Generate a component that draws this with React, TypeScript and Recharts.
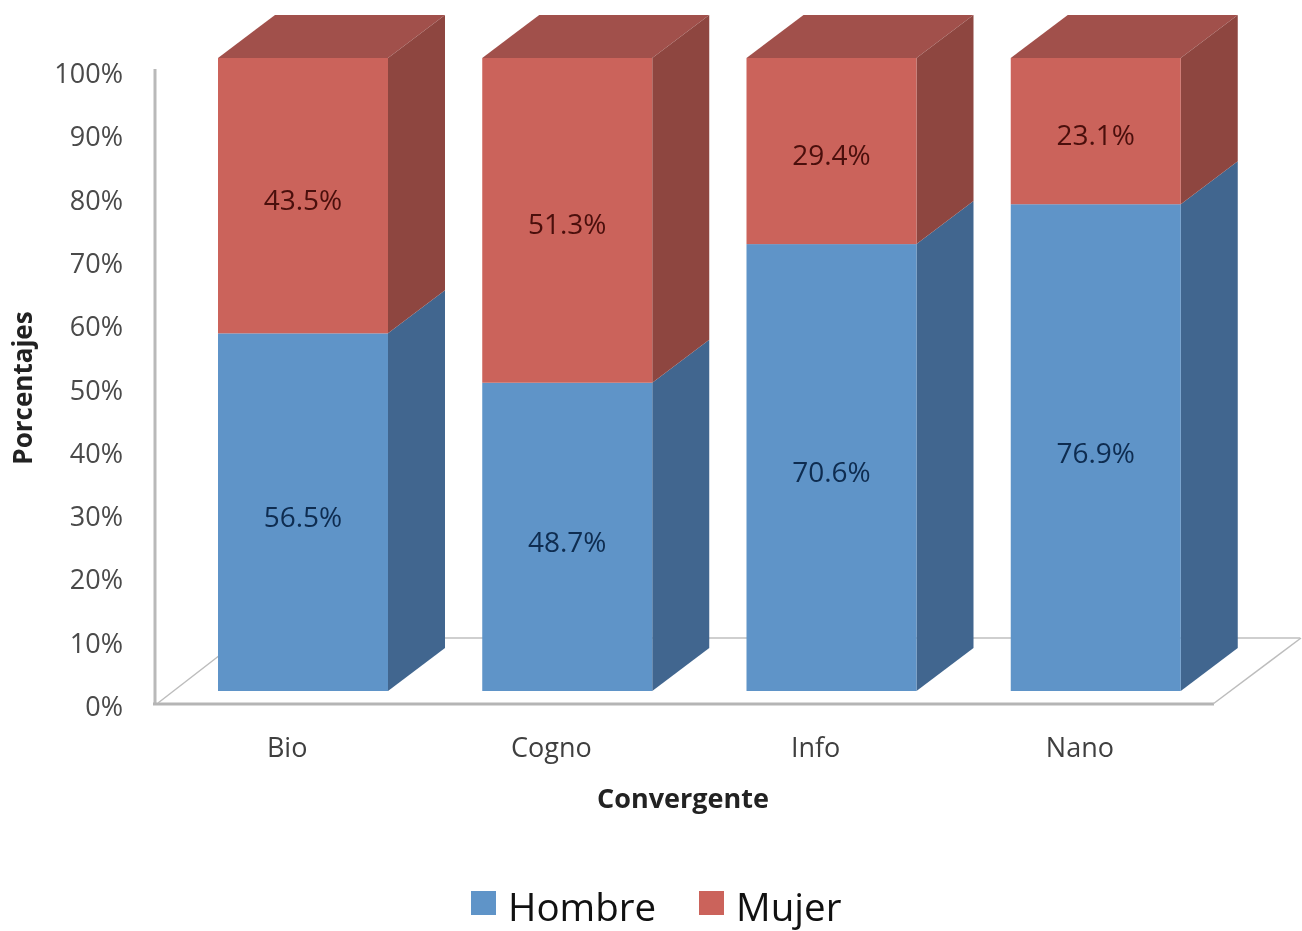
import React from "react";
import { BarChart, Bar, XAxis, YAxis, Legend, LabelList } from "recharts";

const categories = ["Bio", "Cogno", "Info", "Nano"];
const hombre = [56.5, 48.7, 70.6, 76.9];
const mujer = [43.5, 51.3, 29.4, 23.1];
const yTicks = [0, 10, 20, 30, 40, 50, 60, 70, 80, 90, 100];

const data = categories.map((name, i) => ({ name, Hombre: hombre[i], Mujer: mujer[i] }));

const FONT = "'Open Sans', sans-serif";
const DX = 57;
const DY = -43;

function box(colors: { front: string; side: string; top?: string }) {
    return (props: any) => {
        const { x, y, width, height } = props;
        const r = x + width;
        const b = y + height;
        return (
            <g>
                {colors.top && (
                    <polygon points={`${x},${y} ${x + DX},${y + DY} ${r + DX},${y + DY} ${r},${y}`} fill={colors.top} />
                )}
                <polygon points={`${r},${y} ${r + DX},${y + DY} ${r + DX},${b + DY} ${r},${b}`} fill={colors.side} />
                <rect x={x} y={y} width={width} height={height} fill={colors.front} />
            </g>
        );
    };
}

const YTick = ({ y, payload }: any) => (
    <text x={123} y={y + 25} textAnchor="end" fontSize={27} fontFamily={FONT} fill="#4a4a4a">
        {payload.value}%
    </text>
);

const XTick = ({ x, payload }: any) => (
    <text x={x - 16} y={757} textAnchor="middle" fontSize={27} fontFamily={FONT} fill="#3f3f3f">
        {payload.value}
    </text>
);

const LegendContent = ({ payload }: any) => (
    <div style={{ display: "flex", fontFamily: FONT, fontSize: 38.5, color: "#111", lineHeight: "50px" }}>
        {(payload || []).map((p: any, i: number) => (
            <div key={p.value} style={{ display: "flex", alignItems: "center", marginLeft: i ? 43 : 471 }}>
                <span style={{ width: 25, height: 24, background: p.color, marginRight: 12, position: "relative", top: -3 }} />
                <span>{p.value}</span>
            </div>
        ))}
    </div>
);

export default function App() {
    return (
        <div style={{ position: "absolute", left: 0, top: 0, filter: "blur(0.7px)" }}>
            <BarChart
                width={1302}
                height={931}
                data={data}
                margin={{ top: 58, right: 74, bottom: 200, left: 111 }}
            >
                {/* wall and floor */}
                <g fill="none">
                    <line x1={155} y1={69} x2={155} y2={705} stroke="#b9b9b9" strokeWidth={3} />
                    <line x1={153} y1={704} x2={1214} y2={704} stroke="#b5b5b5" strokeWidth={3} />
                    <line x1={240} y1={638} x2={1300} y2={638} stroke="#cfcfcf" strokeWidth={2} />
                    <line x1={158} y1={703} x2={242} y2={638} stroke="#bdbdbd" strokeWidth={1.5} />
                    <line x1={1213} y1={704} x2={1301} y2={638} stroke="#bdbdbd" strokeWidth={1.5} />
                </g>
                <XAxis dataKey="name" height={40} axisLine={false} tickLine={false} tick={<XTick />} interval={0} />
                <YAxis width={60} domain={[0, 100]} ticks={yTicks} axisLine={false} tickLine={false} tick={<YTick />} interval={0} />
                <Bar
                    dataKey="Hombre"
                    stackId="a"
                    barSize={170}
                    fill="#5f94c8"
                    isAnimationActive={false}
                    shape={box({ front: "#5f94c8", side: "#41668f" })}
                >
                    <LabelList dataKey="Hombre" position="center" dy={5} formatter={(v: any) => `${v}%`} fontSize={28} fontFamily={FONT} fill="#0e2c50" />
                </Bar>
                <Bar
                    dataKey="Mujer"
                    stackId="a"
                    barSize={170}
                    fill="#cb635b"
                    isAnimationActive={false}
                    shape={box({ front: "#cb635b", side: "#8e4640", top: "#a1504b" })}
                >
                    <LabelList dataKey="Mujer" position="center" dy={4} formatter={(v: any) => `${v}%`} fontSize={28} fontFamily={FONT} fill="#4a0f0c" />
                </Bar>
                <text x={0} y={0} transform="translate(32,388) rotate(-90)" textAnchor="middle" fontSize={26} fontWeight={700} fontFamily={FONT} fill="#222">
                    Porcentajes
                </text>
                <text x={683} y={808} textAnchor="middle" fontSize={27} fontWeight={700} fontFamily={FONT} fill="#222">
                    Convergente
                </text>
                <Legend
                    layout="horizontal"
                    verticalAlign="middle"
                    align="center"
                    content={<LegendContent />}
                    wrapperStyle={{ position: "absolute", left: 0, top: 881, width: 1302, height: 50 }}
                />
            </BarChart>
        </div>
    );
}
